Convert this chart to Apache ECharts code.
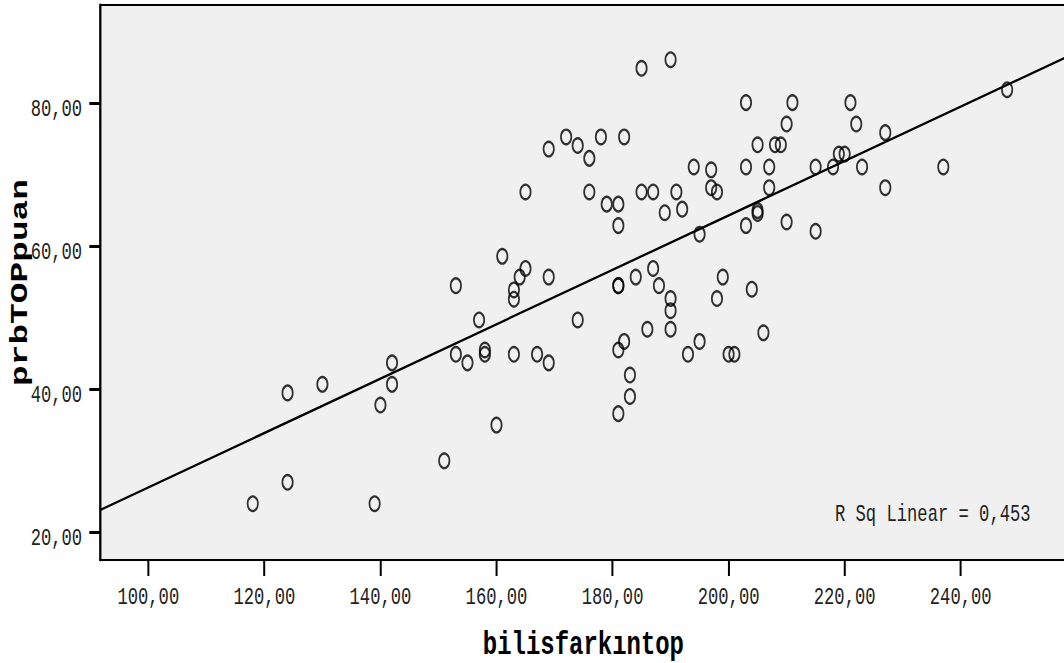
<!DOCTYPE html>
<html>
<head>
<meta charset="utf-8">
<script src="https://cdn.jsdelivr.net/npm/echarts@6/dist/echarts.min.js"></script>
<style>
html,body{margin:0;padding:0;background:#fff;overflow:hidden;width:1064px;height:663px;}
#main{width:1488px;height:663px;transform:scaleX(0.715);transform-origin:0 0;}
</style>
</head>
<body>
<div id="main"></div>
<script>
// ---- data ----
const xTicks = [100, 120, 140, 160, 180, 200, 220, 240];
const yTicks = [20, 40, 60, 80];
const xName = 'bilisfarkıntop';
const yName = 'prbTOPpuan';
const rSqText = 'R Sq Linear = 0,453';

const xValues = [
  118, 124, 124, 130, 139, 140, 142, 142, 151, 153,
  153, 155, 157, 158, 158, 160, 161, 163, 163, 163,
  164, 165, 165, 167, 169, 169, 169, 172, 174, 174,
  176, 176, 178, 179, 181, 181, 181, 181, 181, 181,
  182, 182, 183, 183, 184, 185, 185, 186, 187, 187,
  188, 189, 190, 190, 190, 190, 191, 192, 193, 194,
  195, 195, 197, 197, 198, 198, 199, 200, 201, 203,
  203, 203, 204, 205, 205, 205, 206, 207, 207, 208,
  209, 210, 210, 211, 215, 215, 218, 219, 220, 221,
  222, 223, 227, 227, 237, 248
];
const yValues = [
  24.0, 39.5, 27.0, 40.7, 24.0, 37.8, 43.7, 40.7, 30.0, 54.5,
  44.9, 43.7, 49.7, 45.5, 44.9, 35.0, 58.6, 53.9, 52.6, 44.9,
  55.7, 56.9, 67.6, 44.9, 55.7, 43.7, 73.6, 75.3, 74.1, 49.7,
  72.3, 67.6, 75.3, 65.9, 65.9, 62.9, 54.5, 54.5, 45.5, 36.6,
  75.3, 46.7, 42.0, 39.0, 55.7, 84.9, 67.6, 48.4, 67.6, 56.9,
  54.5, 64.7, 86.1, 52.7, 51.0, 48.4, 67.6, 65.2, 44.9, 71.1,
  61.7, 46.7, 70.7, 68.2, 67.6, 52.7, 55.7, 44.9, 44.9, 80.1,
  71.1, 62.9, 54.0, 74.2, 64.6, 65.0, 47.9, 71.1, 68.2, 74.2,
  74.2, 77.1, 63.4, 80.1, 71.1, 62.1, 71.1, 72.9, 72.9, 80.1,
  77.1, 71.1, 75.9, 68.2, 71.1, 81.9
];
// fit line end points
const fitX = [91.68, 258.28];
const fitY = [23.12, 86.48];

const xMin = 91.68, xMax = 258.28;
const yMin = 16.13, yMax = 93.75;

const fmt = v => v.toFixed(2).replace('.', ',');
const mono = '"Liberation Mono", "Courier New", monospace';

const points = xValues.map((x, i) => [x, yValues[i]]);
const fitLine = fitX.map((x, i) => [x, fitY[i]]);

const chart = echarts.init(document.getElementById('main'), null, {renderer: 'svg'});
chart.setOption({
  animation: false,
  grid: {
    left: 139.9, right: -4, top: 5, bottom: 103,
    show: true, backgroundColor: '#f0f0f0', borderColor: '#000', borderWidth: 2,
    outerBoundsMode: 'none'
  },
  xAxis: {
    type: 'value', min: xMin, max: xMax,
    name: xName, nameLocation: 'middle', nameGap: 85, nameMoveOverlap: false,
    nameTextStyle: {fontFamily: mono, fontWeight: 'bold', fontSize: 33.5, lineHeight: 28, color: '#000', verticalAlign: 'middle'},
    axisLine: {show: true, onZero: false, lineStyle: {color: '#000', width: 2}},
    axisTick: {show: true, customValues: xTicks, length: 16, lineStyle: {color: '#000', width: 2.8}},
    axisLabel: {customValues: xTicks, margin: 26, fontFamily: mono, fontSize: 24, color: '#222', formatter: fmt},
    splitLine: {show: false}
  },
  yAxis: {
    type: 'value', min: yMin, max: yMax,
    name: yName, nameLocation: 'middle', nameGap: 112, nameRotate: 90, nameMoveOverlap: false,
    nameTextStyle: {fontFamily: mono, fontWeight: 'bold', fontSize: 34.5, lineHeight: 28, color: '#000', verticalAlign: 'middle'},
    axisLine: {show: true, onZero: false, lineStyle: {color: '#000', width: 2.8}},
    axisTick: {show: true, customValues: yTicks, length: 15, lineStyle: {color: '#000', width: 3}},
    axisLabel: {customValues: yTicks, margin: 25, fontFamily: mono, fontSize: 24, color: '#222', formatter: fmt,
      verticalAlign: 'top', lineHeight: 12},
    splitLine: {show: false}
  },
  series: [
    {
      type: 'line', data: fitLine, showSymbol: false, symbol: 'none',
      lineStyle: {color: '#000', width: 2.4}, z: 2, silent: true
    },
    {
      type: 'scatter', data: points, symbol: 'circle', symbolSize: 14.5,
      itemStyle: {color: 'rgba(0,0,0,0)', borderColor: '#000', borderWidth: 2.4},
      z: 3, silent: true
    }
  ],
  graphic: [{
    type: 'text', x: 1167.8, y: 515, z: 10,
    style: {text: rSqText, font: '24px ' + mono, fill: '#222', verticalAlign: 'middle', align: 'left'}
  }]
});
</script>
</body>
</html>
